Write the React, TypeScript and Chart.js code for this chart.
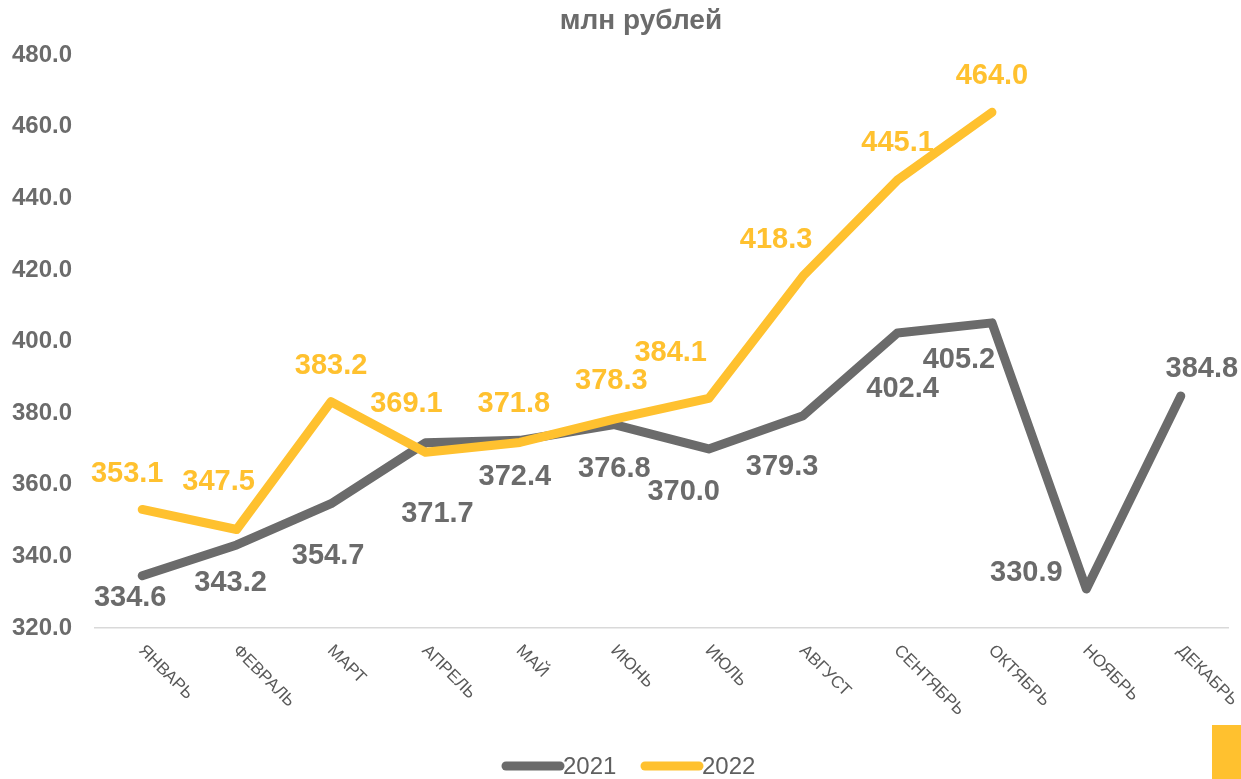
import React, { useEffect, useRef } from "react";
import { Chart, registerables } from "chart.js";

Chart.register(...registerables);

const months = ["ЯНВАРЬ", "ФЕВРАЛЬ", "МАРТ", "АПРЕЛЬ", "МАЙ", "ИЮНЬ", "ИЮЛЬ", "АВГУСТ", "СЕНТЯБРЬ", "ОКТЯБРЬ", "НОЯБРЬ", "ДЕКАБРЬ"];
const values2021 = [334.6, 343.2, 354.7, 371.7, 372.4, 376.8, 370.0, 379.3, 402.4, 405.2, 330.9, 384.8];
const values2022 = [353.1, 347.5, 383.2, 369.1, 371.8, 378.3, 384.1, 418.3, 445.1, 464.0, null, null];
const seriesNames = ["2021", "2022"];
const titleText = "млн рублей";
const yMin = 320;
const yMax = 480;
const yStep = 20;

const GRAY = "#6b6b6b";
const YELLOW = "#ffc12f";
const FONT = "'Liberation Sans', Arial, sans-serif";

// label offsets (px) relative to each point, per series
const labelOffsets2021 = [[-12, 22], [-6, 38], [-3, 52], [12, 71], [-5, 37], [0, 44], [-25, 43], [-21, 51], [5, 56], [-33, 37], [-60, -16], [21, -27]];
const labelOffsets2022 = [[-15, -35], [-18, -48], [0, -36], [-19, -48], [-6, -38], [-3, -38], [-38, -45], [-27, -36], [0, -37], [0, -36]];

const customDraw = {
  id: "customDraw",
  afterDatasetsDraw(chart: any) {
    const ctx = chart.ctx;
    ctx.save();
    ctx.font = `bold 29px ${FONT}`;
    ctx.textAlign = "center";
    ctx.textBaseline = "middle";
    const sets = [
      { idx: 1, offs: labelOffsets2021, color: GRAY },
      { idx: 0, offs: labelOffsets2022, color: YELLOW },
    ];
    sets.forEach((s) => {
      const meta = chart.getDatasetMeta(s.idx);
      const data = chart.data.datasets[s.idx].data;
      meta.data.forEach((pt: any, i: number) => {
        const v = data[i];
        if (v === null || v === undefined) return;
        const o = s.offs[i] || [0, -30];
        ctx.fillStyle = s.color;
        ctx.fillText(Number(v).toFixed(1), pt.x + o[0], pt.y + o[1]);
      });
    });
    ctx.restore();
  },
  afterDraw(chart: any) {
    const ctx = chart.ctx;
    const xs = chart.scales.x;
    const area = chart.chartArea;
    ctx.save();
    // title
    ctx.font = `bold 28px ${FONT}`;
    ctx.fillStyle = GRAY;
    ctx.textAlign = "center";
    ctx.textBaseline = "middle";
    ctx.fillText(titleText, 641, 21);
    // x labels rotated clockwise
    ctx.font = `17px ${FONT}`;
    ctx.fillStyle = "#595959";
    ctx.textAlign = "left";
    ctx.textBaseline = "middle";
    months.forEach((m, i) => {
      const x = xs.getPixelForValue(i);
      ctx.save();
      ctx.translate(x - 1, area.bottom + 20);
      ctx.rotate(Math.PI / 4);
      ctx.fillText(m, 0, 0);
      ctx.restore();
    });
    // legend
    const items = [
      { name: seriesNames[0], color: GRAY },
      { name: seriesNames[1], color: YELLOW },
    ];
    ctx.font = `24px ${FONT}`;
    ctx.textBaseline = "middle";
    const ly = 766;
    let lx = 506;
    items.forEach((it) => {
      ctx.strokeStyle = it.color;
      ctx.lineWidth = 9;
      ctx.lineCap = "round";
      ctx.beginPath();
      ctx.moveTo(lx, ly);
      ctx.lineTo(lx + 54, ly);
      ctx.stroke();
      ctx.fillStyle = "#5f5f5f";
      ctx.textAlign = "left";
      ctx.fillText(it.name, lx + 57, ly + 1);
      lx += 139;
    });
    ctx.restore();
  },
};

export default function App() {
  const ref = useRef<HTMLCanvasElement | null>(null);
  useEffect(() => {
    document.body.style.margin = "0";
    const canvas = ref.current;
    if (!canvas) return;
    const chart = new Chart(canvas, {
      type: "line",
      data: {
        labels: months,
        datasets: [
          {
            label: seriesNames[1],
            data: values2022,
            borderColor: YELLOW,
            backgroundColor: YELLOW,
            borderWidth: 9,
            pointRadius: 0,
            tension: 0,
            borderJoinStyle: "round",
            borderCapStyle: "round",
            spanGaps: false,
          },
          {
            label: seriesNames[0],
            data: values2021,
            borderColor: GRAY,
            backgroundColor: GRAY,
            borderWidth: 9,
            pointRadius: 0,
            tension: 0,
            borderJoinStyle: "round",
            borderCapStyle: "round",
          },
        ],
      },
      options: {
        responsive: false,
        maintainAspectRatio: false,
        animation: false,
        layout: { padding: { top: 55, right: 13, bottom: 51, left: 0 } },
        plugins: {
          legend: { display: false },
          title: { display: false },
          tooltip: { enabled: false },
        },
        scales: {
          x: {
            type: "category",
            offset: true,
            grid: { display: false, drawTicks: false },
            border: { display: true, color: "#d9d9d9", width: 1.5 },
            ticks: { display: false },
            afterFit: (s: any) => {
              s.height = 100;
            },
          },
          y: {
            min: yMin,
            max: yMax,
            grid: { display: false, drawTicks: false },
            border: { display: false },
            ticks: {
              stepSize: yStep,
              padding: 23,
              color: GRAY,
              font: { family: FONT, size: 24, weight: "bold" },
              callback: (v: any) => Number(v).toFixed(1),
            },
            afterFit: (s: any) => {
              s.width = 95;
            },
          },
        },
      },
      plugins: [customDraw],
    });
    return () => chart.destroy();
  }, []);
  return (
    <div style={{ position: "relative", width: 1241, height: 779, overflow: "hidden" }}>
      <canvas ref={ref} width={1241} height={779} style={{ display: "block" }} />
      <div style={{ position: "absolute", left: 1212, top: 725, width: 29, height: 54, background: YELLOW }} />
    </div>
  );
}
